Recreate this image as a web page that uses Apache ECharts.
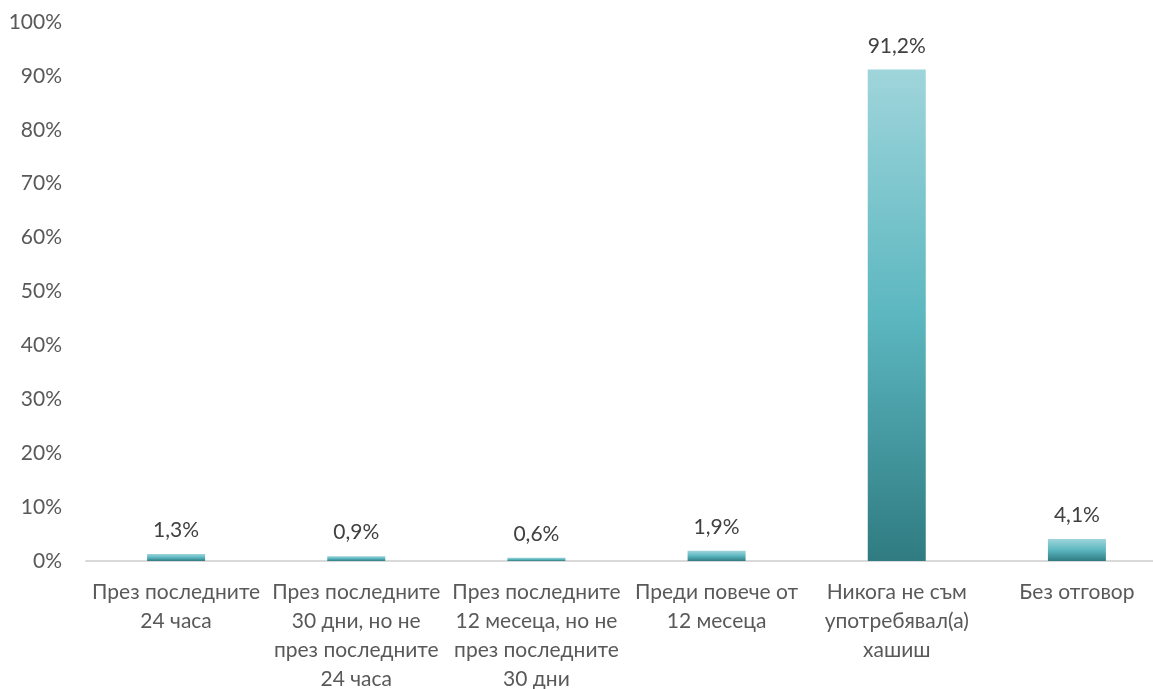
<!DOCTYPE html>
<html><head><meta charset="utf-8">
<script src="https://cdn.jsdelivr.net/npm/echarts@6/dist/echarts.min.js"></script>
<style>html,body{margin:0;padding:0;background:#fff}#c{width:1153px;height:689px}</style>
</head><body><div id="c"></div>
<script>
const categories = [
  "През последните\n24 часа",
  "През последните\n30 дни, но не\nпрез последните\n24 часа",
  "През последните\n12 месеца, но не\nпрез последните\n30 дни",
  "Преди повече от\n12 месеца",
  "Никога не съм\nупотребявал(а)\nхашиш",
  "Без отговор"
];
const values = [1.3, 0.9, 0.6, 1.9, 91.2, 4.1];
const yTicks = [0, 10, 20, 30, 40, 50, 60, 70, 80, 90, 100];

const chart = echarts.init(document.getElementById('c'), null, {renderer: 'canvas'});
const grad = new echarts.graphic.LinearGradient(0, 0, 0, 1, [
  {offset: 0, color: '#9fd5db'},
  {offset: 0.5, color: '#5cb7c0'},
  {offset: 1, color: '#2f7b81'}
]);
chart.setOption({
  animation: false,
  grid: {left: 86, width: 1081, top: 22, height: 539, containLabel: false, outerBoundsMode: 'none'},
  xAxis: {
    type: 'category',
    data: categories,
    axisLine: {lineStyle: {color: '#d9d9d9', width: 2}},
    axisTick: {show: false},
    axisLabel: {interval: 0, color: '#595959', fontSize: 21, fontFamily: 'Lato', lineHeight: 29, margin: 17}
  },
  yAxis: {
    type: 'value', min: yTicks[0], max: yTicks[yTicks.length - 1], interval: 10,
    splitLine: {show: false}, axisLine: {show: false}, axisTick: {show: false},
    axisLabel: {formatter: v => v + '%', color: '#595959', fontSize: 21, fontFamily: 'Lato', margin: 24}
  },
  series: [{
    type: 'bar', data: values, barWidth: 58,
    itemStyle: {color: grad},
    label: {show: true, position: 'top', distance: 13, color: '#404040', fontSize: 21, fontFamily: 'Lato',
      formatter: p => String(p.value.toFixed(1)).replace('.', ',') + '%'}
  }]
});
</script></body></html>
